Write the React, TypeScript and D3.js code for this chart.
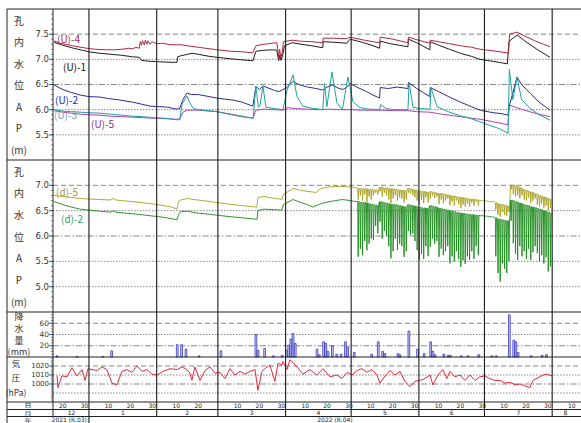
import React from 'react';
import * as d3 from 'd3';

const width = 581;
const height = 423;
const frameX = 7;
const frameY = 9;
const plotLeft = 53;
const plotRight = 581;
const dayRowTop = 402;
const monthRowTop = 409.5;
const yearRowTop = 416.5;

const font = "'Noto Sans CJK JP', 'DejaVu Sans', sans-serif";
const numFont = "'DejaVu Sans', sans-serif";

// all series: [days from 2022-01-01, value]
const u4: [number, number][] = [
    [-16, 7.37], [-14, 7.33], [-10, 7.29], [-5, 7.25], [-1, 7.22], [3, 7.2], [8, 7.19], [12, 7.19], [15, 7.2],
    [18, 7.22], [20, 7.21], [21.5, 7.24], [23, 7.22], [23.5, 7.35], [24, 7.28], [24.5, 7.37], [25.3, 7.29],
    [25.8, 7.38], [26.5, 7.3], [27, 7.37], [28, 7.3], [29, 7.35], [31, 7.31], [34, 7.32], [37, 7.29], [40, 7.29],
    [42, 7.29], [45, 7.27], [50, 7.24], [58.6, 7.19], [65, 7.16], [70, 7.15], [75, 7.13], [76.4, 7.27], [80, 7.3],
    [84, 7.32], [86, 7.33], [86.8, 7.05], [87.3, 7.2], [87.8, 7.02], [88.5, 7.15], [89, 7.35], [93, 7.38],
    [97, 7.36], [102, 7.35], [107, 7.33], [107.2, 7.42], [112, 7.42], [118, 7.41], [119.5, 7.44], [125, 7.39],
    [130, 7.35], [133, 7.33], [133.3, 7.44], [138, 7.41], [142, 7.37], [146, 7.33], [146.2, 7.44], [150, 7.39],
    [156, 7.32], [156.2, 7.38], [160, 7.35], [165, 7.31], [170, 7.27], [175, 7.24], [179, 7.2], [185, 7.17],
    [191, 7.13], [192, 7.12], [192.5, 7.5], [196, 7.54], [200, 7.45], [204, 7.37], [208, 7.3], [211, 7.25],
];

const u1: [number, number][] = [
    [-16, 7.34], [-12, 7.28], [-7, 7.22], [-3, 7.18], [0, 7.15], [5, 7.12], [10, 7.1], [15, 7.08], [20, 7.05],
    [23, 7.04], [24, 6.98], [28, 6.96], [33, 6.95], [38, 6.94], [40.3, 6.94], [40.6, 7.05], [42, 7.07], [45, 7.1],
    [47.5, 7.12], [50, 7.1], [55, 7.06], [58.6, 7.04], [65, 7.01], [70, 6.99], [75, 6.97], [76.4, 7.16], [80, 7.18],
    [84, 7.19], [86, 7.18], [86.8, 6.97], [87.3, 7.08], [87.8, 6.98], [88.5, 7.05], [89.5, 7.27], [93, 7.33],
    [97, 7.3], [102, 7.27], [107, 7.23], [107.2, 7.35], [112, 7.34], [118, 7.32], [119.5, 7.4], [125, 7.34],
    [130, 7.27], [133, 7.22], [133.3, 7.36], [138, 7.31], [142, 7.28], [146, 7.25], [146.2, 7.4], [150, 7.33],
    [156, 7.19], [156.2, 7.35], [160, 7.28], [165, 7.2], [170, 7.12], [175, 7.06], [179, 7.0], [185, 6.96],
    [189, 6.93], [191.5, 6.91], [192.2, 7.35], [194, 7.42], [196, 7.48], [200, 7.35], [205, 7.2], [211, 7.04],
];

const u2: [number, number][] = [
    [-16, 6.49], [-12, 6.4], [-8, 6.34], [-4, 6.29], [0, 6.26], [5, 6.25], [9, 6.22], [13, 6.2], [17, 6.17],
    [20, 6.15], [24, 6.11], [28, 6.07], [32, 6.06], [36, 6.05], [40, 6.01], [41.6, 6.03], [43, 6.2], [44.9, 6.33],
    [47, 6.3], [50, 6.3], [55, 6.26], [58.6, 6.23], [62, 6.21], [66, 6.19], [70, 6.15], [75, 6.07], [76.4, 6.46],
    [78, 6.4], [79.6, 6.47], [81.5, 6.44], [85, 6.38], [87, 6.36], [88.8, 6.4], [90.6, 6.44], [93.4, 6.56],
    [96, 6.5], [100, 6.45], [104, 6.42], [107, 6.39], [109, 6.45], [111.5, 6.49], [114, 6.43], [116.2, 6.4],
    [118, 6.45], [119.5, 6.52], [123, 6.44], [127, 6.36], [130, 6.29], [133, 6.23], [133.3, 6.44], [137, 6.42],
    [141, 6.45], [146, 6.42], [146.2, 6.54], [150, 6.42], [153, 6.34], [156, 6.26], [156.2, 6.44], [160, 6.36],
    [165, 6.25], [170, 6.15], [175, 6.06], [179, 5.99], [184.9, 5.94], [189, 5.92], [191.8, 5.89], [192.2, 6.05],
    [193.5, 6.25], [195.9, 6.65], [198, 6.5], [202, 6.32], [206, 6.15], [211, 5.99],
];

const u3: [number, number][] = [
    [-16, 6.0], [-12, 5.97], [-8, 5.96], [-4, 5.95], [0, 5.94], [5, 5.93], [10, 5.91], [15, 5.89], [20, 5.87],
    [25, 5.86], [30, 5.84], [35, 5.83], [40, 5.8], [41.6, 5.8], [42.6, 6.11], [44.9, 6.27], [46.2, 6.13],
    [47.6, 6.03], [50, 6.0], [55, 5.98], [58.6, 5.96], [65, 5.9], [70, 5.86], [75.1, 5.83], [76.4, 6.47],
    [77.5, 6.05], [78.3, 6.08], [79.6, 6.47], [81, 6.05], [85, 6.02], [88.8, 6.0], [90.6, 6.38], [93.4, 6.69],
    [95.2, 6.26], [97.9, 6.07], [102, 6.03], [107, 6.0], [107.8, 6.52], [108.9, 6.06], [111.2, 6.75],
    [113.5, 6.13], [116, 6.0], [118.5, 6.65], [120.8, 6.16], [124, 6.04], [128, 6.01], [133, 6.0], [133.5, 6.1],
    [136, 6.02], [140, 6.0], [146, 6.0], [146.5, 6.54], [148.3, 6.05], [152, 6.02], [156.1, 6.01], [156.5, 6.44],
    [159.3, 6.06], [165, 5.95], [170, 5.88], [175, 5.82], [178.9, 5.76], [184, 5.68], [188, 5.62], [191.8, 5.53],
    [192.4, 6.8], [194, 6.2], [195.9, 6.65], [198, 6.2], [202, 6.02], [206, 5.9], [211, 5.79],
];

const u5: [number, number][] = [
    [-16, 5.98], [-12, 5.95], [-8, 5.93], [-4, 5.91], [0, 5.9], [5, 5.89], [10, 5.87], [15, 5.86], [20, 5.85],
    [25, 5.84], [30, 5.83], [35, 5.82], [40, 5.81], [41.6, 5.82], [43, 5.95], [45, 5.99], [50, 5.99], [55, 5.97],
    [58.6, 5.96], [65, 5.91], [70, 5.87], [75.1, 5.83], [76.4, 5.99], [80, 6.01], [85, 6.0], [88.8, 5.99],
    [91, 6.04], [95, 6.02], [100, 6.01], [105, 6.0], [110, 6.01], [115, 6.0], [120, 6.0], [125, 5.99], [130, 5.99],
    [133, 5.99], [140, 5.98], [146, 5.98], [150, 5.96], [156, 5.95], [160, 5.92], [165, 5.89], [170, 5.86],
    [175, 5.83], [179, 5.81], [185, 5.76], [191.8, 5.7], [192.4, 6.09], [195, 6.05], [200, 5.98], [205, 5.92],
    [211, 5.86],
];

// (d) series before the pumping started
const d5Pre: [number, number][] = [
    [-16, 6.8], [-8, 6.76], [-4, 6.74], [0, 6.73], [5, 6.72], [10, 6.71], [11, 6.74], [12.5, 6.71], [17, 6.69],
    [22, 6.67], [28, 6.64], [34, 6.6], [38, 6.57], [40.3, 6.53], [41, 6.68], [42, 6.71], [44.9, 6.74], [48, 6.72],
    [52, 6.7], [58.6, 6.66], [64, 6.63], [70, 6.6], [76.9, 6.57], [77.3, 6.76], [80, 6.78], [84, 6.75],
    [88.3, 6.72], [89, 6.82], [93.4, 6.94], [97, 6.9], [100, 6.88], [104, 6.86], [106, 6.93], [110, 6.97],
    [115, 6.98], [119.5, 6.97], [122, 6.95],
];
const d2Pre: [number, number][] = [
    [-16, 6.68], [-12, 6.62], [-8, 6.57], [-4, 6.53], [0, 6.51], [5, 6.49], [10, 6.47], [11, 6.5], [12.5, 6.47],
    [17, 6.45], [22, 6.43], [28, 6.4], [34, 6.37], [38, 6.34], [40.3, 6.32], [41, 6.42], [42, 6.48], [45, 6.49],
    [50, 6.45], [55, 6.43], [58.6, 6.41], [65, 6.38], [70, 6.36], [76.9, 6.33], [77.3, 6.5], [80, 6.53],
    [85, 6.52], [88.3, 6.51], [89, 6.62], [93.4, 6.72], [97, 6.66], [100, 6.62], [102.5, 6.57], [105, 6.62],
    [108, 6.66], [110.3, 6.68], [113, 6.7], [116, 6.72], [119.5, 6.7], [122, 6.68],
];

// daily top / drawdown, from day 123 (May 4)
const pumpStart = 123;
const d2Top = [
    6.68, 6.67, 6.66, 6.66, 6.65, 6.64, 6.63, 6.62, 6.61, 6.6, 6.68, 6.67, 6.66, 6.65, 6.64, 6.63, 6.62, 6.62,
    6.61, 6.6, 6.59, 6.58, 6.57, 6.62, 6.61, 6.6, 6.59, 6.58, 6.57, 6.56, 6.55, 6.55, 6.54, 6.6, 6.59, 6.58,
    6.57, 6.55, 6.54, 6.53, 6.52, 6.51, 6.5, 6.49, 6.48, 6.47, 6.46, 6.45, 6.45, 6.44, 6.43, 6.43, 6.42, 6.42,
    6.41, 6.41, 6.4, 6.4, 6.39, 6.39, 6.38, 6.38, 6.37, 6.36, 6.34, 6.33, 6.32, 6.31, 6.3, 6.3, 6.71, 6.7, 6.68,
    6.67, 6.65, 6.64, 6.62, 6.61, 6.6, 6.58, 6.57, 6.56, 6.55, 6.53, 6.52, 6.5, 6.49, 6.47, 6.46,
];
const d2Low = [
    5.59, 5.75, 5.62, 5.9, 5.72, 5.85, 5.95, 5.92, 6.2, 6.05, 6.28, 5.95, 6.1, 6.0, 5.8, 5.56, 5.7, 5.95, 5.72,
    5.85, 5.8, 5.59, 5.7, 6.1, 6.02, 6.05, 5.9, 5.72, 5.53, 5.65, 5.55, 5.8, 5.6, 5.79, 5.95, 5.85, 5.9, 5.59,
    5.75, 5.62, 5.7, 5.8, 5.46, 5.6, 5.5, 5.7, 5.55, 5.39, 5.52, 5.45, 5.6, 5.53, 5.7, 5.55, 5.8, 5.62, 6.4,
    6.4, 6.39, 6.39, 6.38, 6.38, 6.37, 5.6, 5.27, 5.1, 5.46, 5.35, 5.27, 5.5, 6.3, 5.86, 5.65, 5.53, 5.8, 5.6,
    5.7, 5.55, 5.75, 5.53, 5.68, 5.8, 5.66, 5.5, 5.62, 5.46, 5.58, 5.3, 5.4,
];
const d5Top = [
    6.94, 6.94, 6.93, 6.93, 6.93, 6.92, 6.92, 6.91, 6.91, 6.9, 6.96, 6.96, 6.95, 6.95, 6.94, 6.93, 6.93, 6.92,
    6.91, 6.91, 6.9, 6.9, 6.89, 6.94, 6.93, 6.92, 6.91, 6.9, 6.89, 6.88, 6.88, 6.87, 6.86, 6.88, 6.87, 6.86,
    6.85, 6.84, 6.84, 6.83, 6.82, 6.81, 6.8, 6.79, 6.79, 6.78, 6.77, 6.76, 6.76, 6.75, 6.74, 6.73, 6.73, 6.72,
    6.72, 6.71, 6.7, 6.7, 6.69, 6.69, 6.68, 6.68, 6.68, 6.66, 6.64, 6.63, 6.62, 6.61, 6.6, 6.59, 7.01, 7.0,
    6.99, 6.98, 6.96, 6.94, 6.92, 6.9, 6.89, 6.87, 6.86, 6.84, 6.82, 6.8, 6.79, 6.77, 6.76, 6.74, 6.73,
];
const d5Low = [
    6.72, 6.8, 6.7, 6.82, 6.66, 6.78, 6.72, 6.8, 6.85, 6.82, 6.88, 6.78, 6.85, 6.8, 6.72, 6.65, 6.74, 6.8, 6.7,
    6.76, 6.74, 6.66, 6.72, 6.85, 6.84, 6.8, 6.76, 6.7, 6.64, 6.72, 6.65, 6.76, 6.66, 6.74, 6.8, 6.75, 6.78,
    6.63, 6.72, 6.65, 6.7, 6.74, 6.61, 6.68, 6.6, 6.7, 6.62, 6.55, 6.62, 6.58, 6.64, 6.58, 6.66, 6.6, 6.68, 6.6,
    6.7, 6.7, 6.69, 6.69, 6.68, 6.68, 6.68, 6.52, 6.42, 6.38, 6.48, 6.42, 6.4, 6.48, 6.92, 6.82, 6.78, 6.8,
    6.74, 6.8, 6.72, 6.7, 6.76, 6.65, 6.7, 6.74, 6.62, 6.58, 6.64, 6.56, 6.6, 6.51, 6.55,
];

// daily rainfall (mm)
const rain: [number, number][] = [
    [-15, 2], [-6, 1], [6, 1], [10, 11], [40, 22], [42, 22], [44, 14], [50, 2], [60, 11], [76, 40], [77, 12],
    [80, 15], [84, 2], [88, 3], [90, 12], [91, 21], [92, 32], [93, 42], [94, 24], [104, 14], [105, 4], [107, 27],
    [108, 24], [109, 10], [111, 20], [113, 5], [115, 5], [117, 27], [118, 18], [121, 8], [129, 5], [132, 27],
    [134, 10], [135, 6], [141, 6], [142, 4], [146, 46], [150, 14], [153, 6], [156, 27], [157, 10], [158, 4],
    [162, 5], [164, 3], [165, 3], [170, 2], [173, 2], [178, 4], [184, 2], [186, 2], [192, 75], [194, 30],
    [195, 27], [196, 8], [202, 2], [207, 3], [209, 4],
];

// air pressure (hPa)
const pressure: [number, number][] = [
    [-14.6, 1009], [-14.2, 996], [-12.4, 1009], [-10.1, 1008], [-7.8, 1018], [-5.5, 1009], [-3.2, 1016],
    [-1.8, 1004], [-0.5, 1017], [3.7, 1015], [5.9, 1019], [8.2, 1016], [10.5, 1001], [12.8, 999], [15.1, 1014],
    [17.4, 1016], [19.7, 1013], [22, 1020], [24.3, 1014], [26.5, 1016], [28.8, 1011], [31.1, 1010], [33.9, 1014],
    [37.1, 1017], [40.3, 1016], [42.6, 1019], [44.9, 1016], [46.2, 1012], [47.1, 1004], [48.5, 1019],
    [50.8, 1004], [53.1, 1015], [55.4, 1019], [57.7, 1012], [60, 1013], [62.2, 1006], [64.5, 1017], [66.8, 1010],
    [69.1, 1014], [71.4, 1011], [73.7, 1014], [76, 1016], [77.3, 993], [79.2, 1014], [80.5, 1017], [82.8, 1021],
    [85.1, 1003], [86.5, 1023], [88.3, 1021], [88.8, 1025], [90.6, 1016], [92, 1027], [95.2, 1019], [97.9, 1011],
    [101.1, 1016], [104.3, 1010], [107.1, 1017], [110.3, 1008], [113.5, 1010], [115.8, 1006], [118.1, 1013],
    [120.4, 1010], [122.7, 1015], [124.9, 1017], [127.2, 1013], [129.5, 1016], [131.8, 1010], [133.2, 1001],
    [135.5, 1009], [137.8, 1015], [140, 1010], [142.3, 1014], [144.6, 1003], [146.9, 997], [149.2, 1003],
    [151.5, 1004], [153.8, 1006], [156.1, 1010], [157.4, 999], [159.7, 1010], [162, 1016], [163.8, 1006],
    [165.2, 1014], [167.5, 1008], [169.8, 1010], [172.1, 1004], [174.4, 1010], [176.7, 1004], [178.9, 1008],
    [181.2, 1009], [183.5, 1006], [185.8, 1004], [188.1, 1004], [190.4, 1001], [192.7, 1002], [195, 999],
    [197.3, 1000], [199.5, 998], [201.8, 996], [203.2, 1004], [205.5, 1007], [207.8, 1010], [209.6, 1011],
    [211.9, 1009],
];

const uTicks = [7.5, 7.0, 6.5, 6.0, 5.5];
const dTicks = [7.0, 6.5, 6.0, 5.5, 5.0];
const rainTicks = [60, 40, 20];
const pressureTicks = [1020, 1010, 1000];
const pressureGrid = [1020, 1010, 1000, 990];
const dayLabels = [10, 20, 30];

const wlLabel = ['孔', '内', '水', '位', 'A', 'P', '(m)'];
const rainLabel = ['降', '水', '量', '(mm)'];
const pressureLabel = ['気', '圧', '(hPa)'];
const rowNames = ['日', '月', '年'];

const base = new Date(2022, 0, 1).getTime();
const dt = (d: number) => new Date(base + d * 86400000);

const xDomain: [Date, Date] = [new Date(2021, 11, 16), new Date(2022, 7, 13)];
const x = d3.scaleTime().domain(xDomain).range([54, 54 + 240 * 2.185]);
const yU = d3.scaleLinear().domain([5, 8]).range([160, 9]);
const yD = d3.scaleLinear().domain([4.5, 7.5]).range([312, 160]);
const yR = d3.scaleLinear().domain([0, 80]).range([357, 312]);
const yP = d3.scaleLinear().domain([980, 1030]).range([402, 357]);

// each day: level before the drawdown, the drawdown itself, and the recovery
const pumped = (tops: number[], lows: number[]): [number, number][] =>
    tops.flatMap((t, i) => [[pumpStart + i, t], [pumpStart + i + 0.2, lows[i]], [pumpStart + i + 0.5, t]] as [number, number][]);

const d5 = [...d5Pre, ...pumped(d5Top, d5Low)];
const d2 = [...d2Pre, ...pumped(d2Top, d2Low)];

const pathFor = (scale: d3.ScaleLinear<number, number>) =>
    d3.line<[number, number]>().x(d => x(dt(d[0]))).y(d => scale(d[1]));

const dashes = ['5,3', '1.5,1.5', '6,2,1.5,2', '1.5,1.5', '1.5,1.5'];

function GridAndTicks({ scale, ticks, grid, minorStep, labelFmt, size }: any) {
    const [d0, d1] = scale.domain();
    const minor = d3.range(d0 + minorStep, d1 - minorStep / 2, minorStep);
    return (
        <g>
            {grid.map((t: number, i: number) => (
                <line key={'g' + t} x1={plotLeft} x2={plotRight} y1={scale(t)} y2={scale(t)}
                    stroke="#555" strokeWidth={0.7} strokeDasharray={dashes[i % dashes.length]} />
            ))}
            {minor.map((t: number) => (
                <line key={'m' + t} x1={plotLeft - 2} x2={plotLeft} y1={scale(t)} y2={scale(t)} stroke="#333" strokeWidth={0.6} />
            ))}
            {ticks.map((t: number) => (
                <g key={'t' + t}>
                    <line x1={plotLeft - 4} x2={plotLeft} y1={scale(t)} y2={scale(t)} stroke="#333" strokeWidth={0.8} />
                    <text x={plotLeft - 4} y={scale(t)} dy="0.35em" textAnchor="end" fontSize={size} fill="#333"
                        fontFamily={numFont}>{labelFmt(t)}</text>
                </g>
            ))}
        </g>
    );
}

function SideLabel({ chars, x0, y0, step, size }: { chars: string[]; x0: number; y0: number; step: number; size: number }) {
    return (
        <g>
            {chars.map((c, i) => (
                <text key={i} x={x0} y={y0 + i * step} dy="0.35em" textAnchor="middle" fontSize={size}
                    fill="#333" fontFamily={font}>{c}</text>
            ))}
        </g>
    );
}

export default function App() {
    const months = d3.timeMonth.range(new Date(2022, 0, 1), new Date(2022, 7, 2));
    const monthStarts = d3.timeMonth.range(new Date(2021, 11, 1), new Date(2022, 7, 2));

    const dayTicks: Date[] = [];
    monthStarts.forEach(m => {
        dayLabels.forEach(d => {
            const date = new Date(m.getFullYear(), m.getMonth(), d);
            if (date.getMonth() === m.getMonth() && date >= xDomain[0] && date <= xDomain[1]) dayTicks.push(date);
        });
    });

    const monthCenters = monthStarts.map(m => {
        const next = d3.timeMonth.offset(m, 1);
        const a = m < xDomain[0] ? xDomain[0] : m;
        const b = next > xDomain[1] ? xDomain[1] : next;
        return { label: String(m.getMonth() + 1), cx: (x(a) + Math.min(x(b), plotRight)) / 2 };
    });

    const jan1 = x(new Date(2022, 0, 1));
    const barW = x(dt(1)) - x(dt(0));
    const dayMid = (dayRowTop + monthRowTop) / 2;
    const monthMid = (monthRowTop + yearRowTop) / 2;
    const yearMid = yearRowTop + 3.4;
    const rowMids = [dayMid, monthMid, yearMid];

    const rowLine = (y: number) => (
        <line x1={frameX} x2={plotRight} y1={y} y2={y} stroke="#222" strokeWidth={1} />
    );

    return (
        <svg width={width} height={height} style={{ position: 'absolute', left: 0, top: 0, background: '#fff' }}>
            <defs>
                <clipPath id="plot">
                    <rect x={plotLeft} y={frameY} width={plotRight - plotLeft} height={dayRowTop - frameY} />
                </clipPath>
            </defs>

            <GridAndTicks scale={yU} ticks={uTicks} grid={uTicks} minorStep={0.1} size={8.5} labelFmt={(t: number) => t.toFixed(1)} />
            <GridAndTicks scale={yD} ticks={dTicks} grid={dTicks} minorStep={0.1} size={8.5} labelFmt={(t: number) => t.toFixed(1)} />
            <GridAndTicks scale={yR} ticks={rainTicks} grid={rainTicks} minorStep={5} size={7.5} labelFmt={(t: number) => String(t)} />
            <GridAndTicks scale={yP} ticks={pressureTicks} grid={pressureGrid} minorStep={2} size={7} labelFmt={(t: number) => String(t)} />

            <g clipPath="url(#plot)" fill="none" strokeWidth={1} strokeLinejoin="round">
                <path d={pathFor(yU)(u1) || ''} stroke="#1e1e1e" />
                <path d={pathFor(yU)(u4) || ''} stroke="#b0283e" />
                <path d={pathFor(yU)(u5) || ''} stroke="#b040b0" />
                <path d={pathFor(yU)(u2) || ''} stroke="#2c2c8c" />
                <path d={pathFor(yU)(u3) || ''} stroke="#22a0a0" />

                <path d={pathFor(yD)(d5) || ''} stroke="#a8a020" strokeWidth={0.9} />
                <path d={pathFor(yD)(d2) || ''} stroke="#1a8a1a" strokeWidth={0.9} />

                {rain.map(([d, v]) => (
                    <rect key={d} x={x(dt(d))} y={yR(v)} width={barW * 0.8} height={yR(0) - yR(v)}
                        fill="#d4d4f4" stroke="#3434c4" strokeWidth={0.8} />
                ))}

                <path d={pathFor(yP)(pressure) || ''} stroke="#e6283c" />
            </g>

            {/* legend labels */}
            <g fontFamily={font} fontSize={10}>
                <text x={57} y={43} fill="#a8304c">(U)-4</text>
                <text x={63} y={71} fill="#111">(U)-1</text>
                <text x={55} y={104} fill="#2222c8">(U)-2</text>
                <text x={54} y={119} fill="#78a0a8">(U)-3</text>
                <text x={91} y={128} fill="#902c90">(U)-5</text>
                <text x={56} y={196} fill="#a09840">(d)-5</text>
                <text x={61} y={223} fill="#30a060">(d)-2</text>
            </g>

            {/* month lines */}
            {months.map(m => (
                <line key={+m} x1={x(m)} x2={x(m)} y1={frameY} y2={yearRowTop} stroke="#1a1a1a" strokeWidth={1.1} />
            ))}
            <line x1={jan1} x2={jan1} y1={yearRowTop} y2={height} stroke="#1a1a1a" strokeWidth={1.1} />

            {/* frame */}
            <line x1={frameX} x2={plotRight} y1={frameY} y2={frameY} stroke="#222" strokeWidth={1} />
            <line x1={frameX} x2={frameX} y1={frameY} y2={height} stroke="#222" strokeWidth={1} />
            <line x1={plotLeft} x2={plotLeft} y1={frameY} y2={yearRowTop} stroke="#222" strokeWidth={1} />
            {rowLine(160)}
            {rowLine(312)}
            {rowLine(357)}
            {rowLine(dayRowTop)}
            {rowLine(monthRowTop)}
            {rowLine(yearRowTop)}

            {/* side labels */}
            <SideLabel chars={wlLabel} x0={19} y0={21} step={21.5} size={10} />
            <SideLabel chars={wlLabel} x0={19} y0={172} step={21.7} size={10} />
            <SideLabel chars={rainLabel} x0={19} y0={317} step={11.7} size={9} />
            <SideLabel chars={pressureLabel} x0={16} y0={364} step={14.5} size={8.5} />

            {/* date rows */}
            <g fontFamily={numFont} fontSize={6} fill="#222" textAnchor="middle">
                {dayTicks.map(d => (
                    <text key={+d} x={x(d)} y={dayMid} dy="0.35em">{d.getDate()}</text>
                ))}
                {monthCenters.map(m => (
                    <text key={m.label} x={m.cx} y={monthMid} dy="0.35em">{m.label}</text>
                ))}
                <text x={jan1 - 2} y={yearMid} dy="0.35em" textAnchor="end">2021 (R.03)</text>
                <text x={(jan1 + plotRight) / 2} y={yearMid} dy="0.35em">2022 (R.04)</text>
            </g>
            {rowNames.map((c, i) => (
                <g key={c} transform={`translate(28,${rowMids[i]}) scale(1,0.7)`}>
                    <text x={0} y={0} dy="0.35em" textAnchor="middle" fontSize={7} fill="#222" fontFamily={font}>{c}</text>
                </g>
            ))}
        </svg>
    );
}
